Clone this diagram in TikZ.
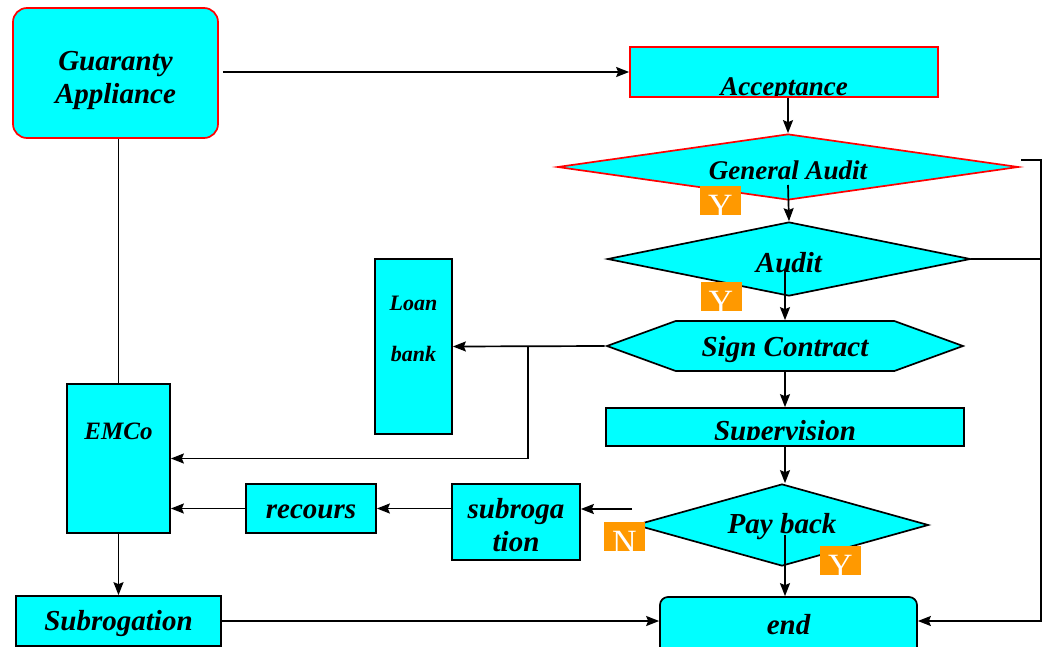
\documentclass[tikz,border=0pt]{standalone}
\usepackage{fontspec}
\setmainfont{Liberation Serif}
\usetikzlibrary{shapes.geometric, shapes.symbols, arrows.meta, calc}
\definecolor{boxCyan}{HTML}{00FFFF}
\definecolor{ynOrange}{HTML}{FF9900}
\tikzset{
    >={Stealth[length=13pt, width=10pt, inset=2pt]},
    % Shapes
    box/.style={rectangle, draw=black, line width=1.7pt, fill=boxCyan, inner sep=0pt, align=center,
                text height=19pt, text depth=0pt,
                font=\fontsize{29}{33}\selectfont\bfseries\itshape},
    redBox/.style={box, draw=red},
    decide/.style={box, diamond},
    twoLines/.style={text height={}, text depth={}},
    % text off the centre of its box
    inText/.style n args={3}{path picture={
        \node[inner sep=0pt, align=center, font=#2\bfseries\itshape] at ([yshift=#1]path picture bounding box.center) {#3};}},
    % Y / N marks
    yn/.style={rectangle, fill=ynOrange, minimum width=41pt, minimum height=29pt, inner sep=0pt,
               path picture={\node[inner sep=0pt, anchor=base, text=white, font=\fontsize{34}{34}\selectfont]
                   at ([yshift=-2.5pt]path picture bounding box.south) {#1};}},
    % Flow
    flow/.style={->, line width=1.7pt},
    link/.style={line width=1.7pt}
}

\begin{document}
\begin{tikzpicture}[x=1pt, y=-1pt]
\clip (0,0) rectangle (1044,646);

\node[redBox, twoLines, rounded corners=14pt, minimum width=205pt, minimum height=130pt] (guar) at (115.5,73)
    {\rule{0pt}{34pt}Guaranty\\Appliance};
\node[redBox, minimum width=308pt, minimum height=50pt,
      inText={-13.5pt}{\fontsize{27}{27}\selectfont}{Acceptance}] (accept) at (784,72) {};
\node[decide, draw=red, aspect=7, minimum width=461pt, minimum height=66pt, text height=24pt,
      font=\fontsize{27}{27}\selectfont\bfseries\itshape] (genAudit) at (788,167) {General Audit};
\node[decide, aspect=5, minimum width=363pt, minimum height=74pt, text height=26pt] (audit) at (789,259) {Audit};
\node[box, signal, signal to=west and east, signal pointer angle=40, text height=20pt,
      minimum width=356pt, minimum height=50pt] (sign) at (785,346) {Sign Contract};
\node[box, minimum width=77pt, minimum height=175pt,
      inText={-5pt}{\fontsize{22}{51}\selectfont}{Loan\\bank}] (loan) at (413.5,346.5) {};
\node[box, minimum width=358pt, minimum height=38pt,
      path picture={\clip ([yshift=7pt]path picture bounding box.south west) rectangle (path picture bounding box.north east);
                    \node[inner sep=0pt, anchor=base, font=\fontsize{29}{29}\selectfont\bfseries\itshape]
                        at ([yshift=6pt]path picture bounding box.south) {Supervision};}] (superv) at (785,427) {};
\node[decide, aspect=3.6, minimum width=293pt, minimum height=82pt, text height=16pt] (payBack) at (782,525) {Pay back};
\node[box, twoLines, minimum width=128pt, minimum height=76pt] (subroga) at (516,522) {\rule{0pt}{27pt}subroga\\tion};
\node[box, minimum width=130pt, minimum height=49pt] (recours) at (311,508.5) {recours};
\node[box, minimum width=103pt, minimum height=149pt,
      inText={28.5pt}{\fontsize{25}{25}\selectfont}{EMCo}] (emco) at (118.5,458.5) {};
\node[box, minimum width=205pt, minimum height=50pt, text height=18pt] (subrog) at (118.5,621) {Subrogation};
\node[box, rounded corners=8pt, minimum width=257pt, minimum height=60pt, text height=14pt] (end) at (788.5,627) {end};

\node[yn=Y] (yGen) at (720.5,200.5) {};
\node[yn=Y] (yAud) at (721,296) {};
\node[yn=N] (nPay) at (624.5,536) {};
\node[yn=Y] (yPay) at (840.5,560) {};

\coordinate (split) at (528,346);
\coordinate (nOut) at (632,509);
\coordinate (back) at (1041,621);

\draw[flow] ([xshift=4pt]guar.east |- accept.west) -- (accept.west);
\draw[flow] (accept.south -| genAudit.north) -- (genAudit.north);
\draw[flow] ($(genAudit.center)+(0,18)$) -- (audit.north);
\draw[flow] ($(audit.center)+(-4,11)$) -- (sign.north);
\draw[flow] (sign.west) -- (loan.east);
\draw[flow] (split) |- (emco.east);
\draw[flow] (sign.south) -- (superv.north);
\draw[flow] (superv.south) -- (superv.south |- payBack.north);
\draw[flow] ($(payBack.center)+(3,10)$) -- (end.north -| superv.south);
\draw[flow] (nOut) -- (nOut -| subroga.east);
\draw[flow] (subroga.west |- recours.east) -- (recours.east);
\draw[flow] (recours.west) -- (recours.west -| emco.east);
\draw[link] (guar.south -| emco.north) -- (emco.north);
\draw[flow] (emco.south) -- (subrog.north);
\draw[flow] (subrog.east) -- (end.west |- subrog.east);
\draw[flow] ($(genAudit.east)+(2,-7)$) -| (back) -- (end.east |- back);
\draw[link] (audit.east) -- (audit.east -| back);

\end{tikzpicture}
\end{document}
